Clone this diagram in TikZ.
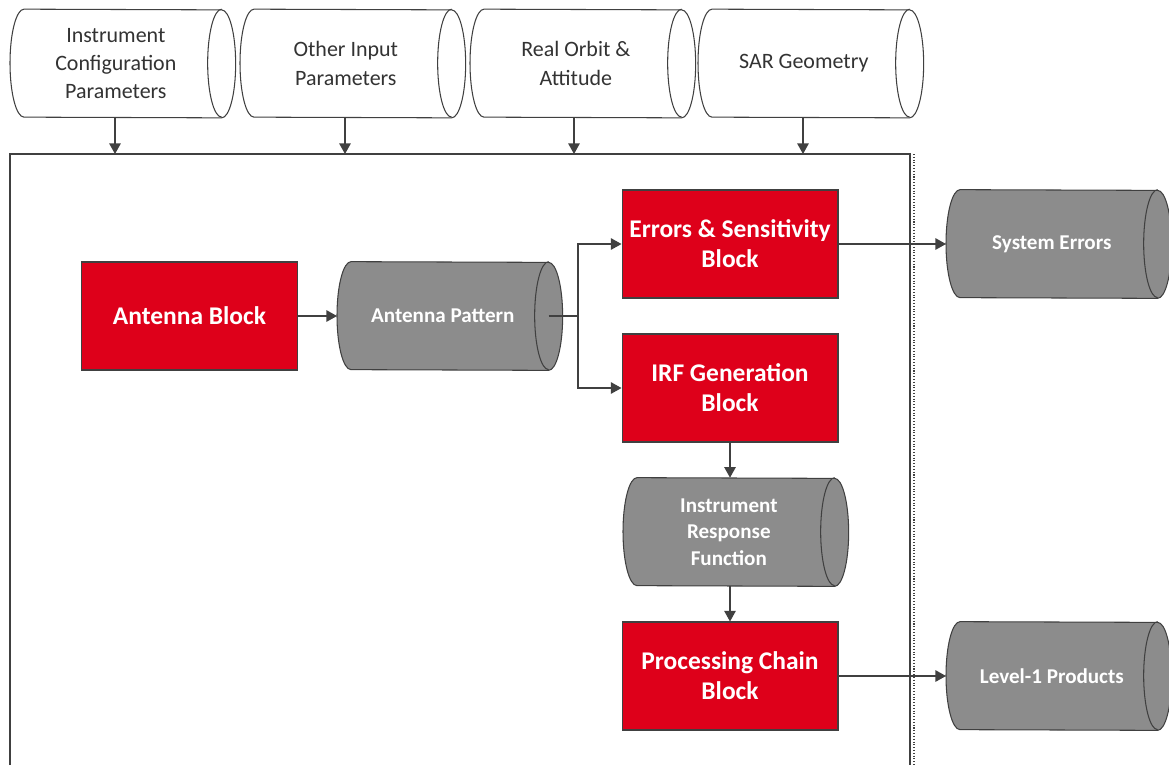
\documentclass[tikz,border=0pt]{standalone}
\usepackage{fontspec}
\setmainfont{Carlito}
\usetikzlibrary{positioning,arrows.meta}
\definecolor{blockred}{RGB}{222,0,26}
\definecolor{storegray}{RGB}{140,140,140}
\definecolor{linegray}{RGB}{64,64,64}
\pgfdeclarelayer{background}
\pgfsetlayers{background,main}

\begin{document}
\begin{tikzpicture}[
    x=0.02cm, y=-0.02cm,
    store/.style={rectangle, minimum width=4.22cm, minimum height=2.16cm, anchor=west, align=center},
    infile/.style={store, text=black!80, font=\fontsize{12.5}{16}\selectfont},
    outfile/.style={store, text=white, font=\bfseries\fontsize{12}{15}\selectfont},
    storeline/.style={draw=linegray, line width=0.6pt},
    block/.style={rectangle, draw=linegray, line width=0.6pt, fill=blockred, text=white,
        minimum width=4.32cm, minimum height=2.16cm, align=center,
        font=\bfseries\fontsize{14.5}{17}\selectfont},
    arrow/.style={-{Triangle[length=6pt,width=6.5pt]}, draw=linegray, line width=0.7pt}
]
    \useasboundingbox (0,0) rectangle (1169,765);

    % Input files
    \node[infile] (instconf) at (10,63.5) {Instrument\\Configuration\\Parameters};
    \node[infile] (otherin) at (240,63.5) {Other Input\\Parameters};
    \node[infile] (orbit) at (470,63.5) {Real Orbit \&\\Attitude};
    \node[infile] (sargeom) at (698,63.5) {SAR Geometry};

    % Simulator frame
    \draw[linegray, line width=0.7pt] (10,765) -- (10,154) -- (910,154) -- (910,765);
    \draw[linegray, densely dotted, line width=0.6pt] (914,154) -- (914,765);
    \coordinate (f1) at (115,154);
    \coordinate (f2) at (345,154);
    \coordinate (f3) at (574,154);
    \coordinate (f4) at (803,154);

    % Blocks
    \node[block] (antenna) at (189.5,316) {Antenna Block};
    \node[outfile] (pattern) at (337,316) {Antenna Pattern};
    \node[block] (errors) at (730,244) {Errors \& Sensitivity\\Block};
    \node[block] (irf) at (730,388) {IRF Generation\\Block};
    \node[outfile] (response) at (623,532) {Instrument\\Response\\Function};
    \node[block] (chain) at (730,676) {Processing Chain\\Block};

    % Outputs
    \node[outfile] (syserr) at (946,244) {System Errors};
    \node[outfile] (level1) at (946,676) {Level-1 Products};

    % Cylinder outlines behind the texts
    \begin{pgfonlayer}{background}
    \foreach \n/\c in {instconf/white, otherin/white, orbit/white, sargeom/white,
                       pattern/storegray, response/storegray, syserr/storegray, level1/storegray} {
        \draw[storeline, fill=\c] ([xshift=0.28cm]\n.north west)
            arc[start angle=90, end angle=270, x radius=0.28cm, y radius=1.08cm]
            -- (\n.south east)
            arc[start angle=270, end angle=450, x radius=0.28cm, y radius=1.08cm] -- cycle;
        \draw[storeline] (\n.north east)
            arc[start angle=90, end angle=270, x radius=0.28cm, y radius=1.08cm];
    }
    \end{pgfonlayer}

    % Arrows
    \draw[arrow] (instconf.south -| f1) -- (f1);
    \draw[arrow] (otherin.south -| f2) -- (f2);
    \draw[arrow] (orbit.south -| f3) -- (f3);
    \draw[arrow] (sargeom.south -| f4) -- (f4);
    \draw[arrow] (antenna) -- (pattern);
    \coordinate (split) at (578,316);
    \draw[linegray, line width=0.7pt] (pattern.east) -- (split);
    \draw[arrow] (split) |- (errors.west);
    \draw[arrow] (split) |- (irf.west);
    \draw[arrow] (irf) -- (irf |- response.north);
    \draw[arrow] (chain |- response.south) -- (chain);
    \draw[arrow] (errors) -- (syserr);
    \draw[arrow] (chain) -- (level1);
\end{tikzpicture}
\end{document}
